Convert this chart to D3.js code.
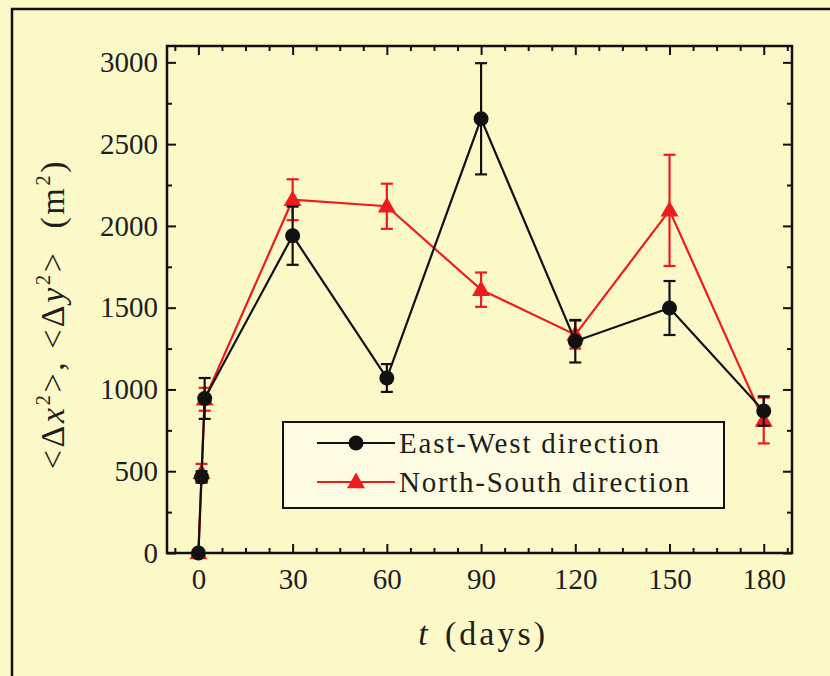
<!DOCTYPE html>
<html><head><meta charset="utf-8">
<script src="https://cdn.jsdelivr.net/npm/d3@7/dist/d3.min.js"></script>
<style>html,body{margin:0;padding:0;background:#fcf9c9;}svg{display:block;}</style>
</head><body>
<svg id="chart" width="830" height="676"></svg>
<script>
const days = [0, 1, 2, 30, 60, 90, 120, 150, 180];
const eastWest = [0, 465, 945, 1940, 1070, 2655, 1295, 1498, 868];
const eastWestErr = [0, 35, 125, 178, 85, 340, 130, 165, 90];
const northSouth = [0, 490, 940, 2160, 2120, 1610, 1335, 2095, 810];
const northSouthErr = [0, 55, 70, 125, 138, 105, 85, 340, 140];
const xTicks = [0, 30, 60, 90, 120, 150, 180];
const yTicks = [0, 500, 1000, 1500, 2000, 2500, 3000];
const seriesNames = ["East-West direction", "North-South direction"];

const svg = d3.select("#chart");
const L = 167, R = 792, T = 46, B = 553;
const x = d3.scaleLinear().domain([-10, 189]).range([L, R]);
const y = d3.scaleLinear().domain([0, 3100]).range([B, T]);
const font = "Liberation Serif, Times New Roman, serif";
const ink = "#1e1e1e";

svg.append("rect").attr("width", 830).attr("height", 676).attr("fill", "#fcf9c9");
// outer border
svg.append("path").attr("d", "M12,676 V9 H830").attr("fill", "none").attr("stroke", "#111").attr("stroke-width", 2.5);

// axes with inward ticks
const minorX = d3.range(-7.5, 189, 7.5).filter(v => !xTicks.includes(v));
const minorY = d3.range(250, 3100, 250).filter(v => !yTicks.includes(v));
function addAxis(axisFn, scale, major, minor, transform, showLabels, pad) {
  const gMin = svg.append("g").attr("transform", transform)
    .call(axisFn(scale).tickValues(minor).tickSize(-5).tickFormat(""));
  gMin.select(".domain").remove();
  gMin.selectAll("line").attr("stroke", "#111").attr("stroke-width", 2);
  const g = svg.append("g").attr("transform", transform)
    .call(axisFn(scale).tickValues(major).tickSize(-9).tickPadding(showLabels ? pad : 0)
      .tickFormat(showLabels ? d3.format("d") : ""));
  g.select(".domain").remove();
  g.selectAll("line").attr("stroke", "#111").attr("stroke-width", 2);
  g.selectAll("text").attr("font-family", font).attr("font-size", 29).attr("fill", ink);
  return g;
}
addAxis(d3.axisBottom, x, xTicks, minorX, `translate(0,${B})`, true, 15);
addAxis(d3.axisTop, x, xTicks, minorX, `translate(0,${T})`, false, 0);
addAxis(d3.axisLeft, y, yTicks, minorY, `translate(${L},0)`, true, 9);
addAxis(d3.axisRight, y, yTicks, minorY, `translate(${R},0)`, false, 0);

svg.append("rect").attr("x", L).attr("y", T).attr("width", R - L).attr("height", B - T)
  .attr("fill", "none").attr("stroke", "#111").attr("stroke-width", 2.5);

const colors = ["#111111", "#ee1c1c"];
const series = [
  { vals: eastWest, err: eastWestErr, color: colors[0], marker: "circle" },
  { vals: northSouth, err: northSouthErr, color: colors[1], marker: "triangle" }
];
const line = d3.line().x(d => x(d.t)).y(d => y(d.v));
const tri = d3.symbol().type(d3.symbolTriangle).size(140);

function drawMarker(g, m, cx, cy, color) {
  if (m === "circle") g.append("circle").attr("cx", cx).attr("cy", cy).attr("r", 7.5).attr("fill", color);
  else g.append("path").attr("d", tri()).attr("transform", `translate(${cx},${cy + 1})`).attr("fill", color);
}

[series[1], series[0]].forEach(s => {
  const pts = days.map((t, i) => ({ t, v: s.vals[i], e: s.err[i] }));
  const g = svg.append("g");
  g.append("path").datum(pts).attr("d", line).attr("fill", "none").attr("stroke", s.color).attr("stroke-width", 2.2);
  pts.forEach(p => {
    if (p.e > 0) {
      const cx = x(p.t);
      g.append("line").attr("x1", cx).attr("x2", cx).attr("y1", y(p.v - p.e)).attr("y2", y(p.v + p.e))
        .attr("stroke", s.color).attr("stroke-width", 2.2);
      [p.v - p.e, p.v + p.e].forEach(v => g.append("line").attr("x1", cx - 6).attr("x2", cx + 6)
        .attr("y1", y(v)).attr("y2", y(v)).attr("stroke", s.color).attr("stroke-width", 2.2));
    }
    drawMarker(g, s.marker, x(p.t), y(p.v), s.color);
  });
});

// legend
const lg = svg.append("g");
lg.append("rect").attr("x", 283).attr("y", 422).attr("width", 441).attr("height", 86)
  .attr("fill", "#fdfce2").attr("stroke", "#111").attr("stroke-width", 2);
const legendWidths = [260, 290];
series.forEach((s, i) => {
  const ly = 443 + i * 39;
  lg.append("line").attr("x1", 317).attr("x2", 395).attr("y1", ly).attr("y2", ly).attr("stroke", s.color).attr("stroke-width", 2.2);
  drawMarker(lg, s.marker, 356, ly, s.color);
  lg.append("text").attr("x", 399).attr("y", ly + 10).attr("font-family", font).attr("font-size", 29)
    .attr("textLength", legendWidths[i]).attr("lengthAdjust", "spacing")
    .attr("fill", ink).text(seriesNames[i]);
});

// x title
svg.append("text").attr("x", 423).attr("y", 645).attr("text-anchor", "middle")
  .attr("font-family", font).attr("font-size", 34).attr("font-style", "italic").attr("fill", ink).text("t");
svg.append("text").attr("x", 445).attr("y", 645)
  .attr("font-family", font).attr("font-size", 34).attr("fill", ink)
  .attr("textLength", 100).attr("lengthAdjust", "spacing").text("(days)");

// y title
const yt = svg.append("text").attr("transform", "translate(64,314) rotate(-90)").attr("text-anchor", "middle")
  .attr("font-family", font).attr("font-size", 34).attr("letter-spacing", 2.5).attr("fill", ink);
yt.append("tspan").text("<\u0394");
yt.append("tspan").attr("font-style", "italic").text("x");
yt.append("tspan").attr("font-size", 21).attr("dy", -14).text("2");
yt.append("tspan").attr("dy", 14).text(">, <\u0394");
yt.append("tspan").attr("font-style", "italic").text("y");
yt.append("tspan").attr("font-size", 21).attr("dy", -14).text("2");
yt.append("tspan").attr("dy", 14).text(">");
yt.append("tspan").attr("dx", 22).text("(m");
yt.append("tspan").attr("font-size", 21).attr("dy", -14).text("2");
yt.append("tspan").attr("dy", 14).text(")");
</script>
</body></html>
